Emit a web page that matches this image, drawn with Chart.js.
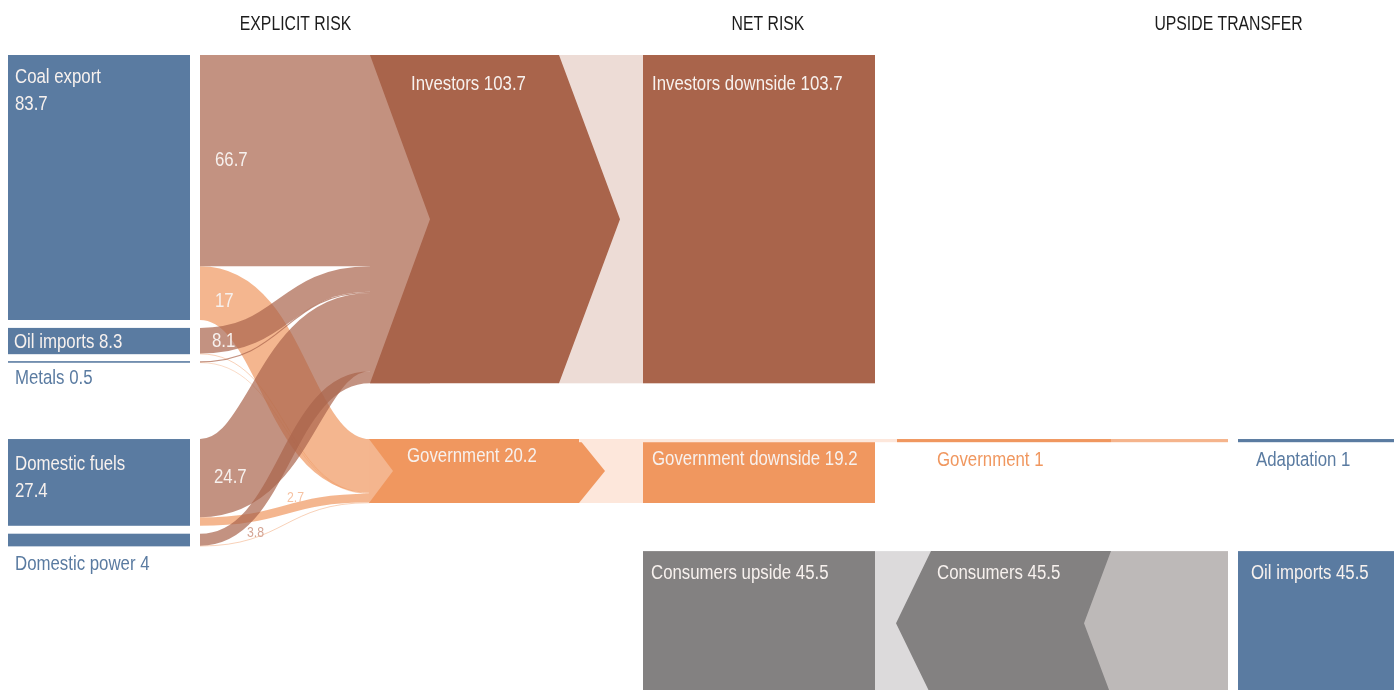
<!DOCTYPE html>
<html><head><meta charset="utf-8">
<script src="https://cdn.jsdelivr.net/npm/chart.js@4.4.1/dist/chart.umd.min.js"></script>
<style>html,body{margin:0;padding:0;background:#fff;overflow:hidden}#wrap{width:1394px;height:690px;position:relative}</style>
</head><body><div id="wrap"><canvas id="c"></canvas></div>
<script>
// ---------------- DATA ----------------
const columnTitles = ['EXPLICIT RISK', 'NET RISK', 'UPSIDE TRANSFER'];
const sourceNames = ['Coal export', 'Oil imports', 'Metals', 'Domestic fuels', 'Domestic power'];
const sourceValues = [83.7, 8.3, 0.5, 27.4, 4];
const holderNames = ['Investors', 'Government'];
const holderValues = [103.7, 20.2];
const toInvestors = [66.7, 8.1, 0.4, 24.7, 3.8];
const toGovernment = [17, 0.2, 0.1, 2.7, 0.2];
const netNames = ['Investors downside', 'Government downside', 'Consumers upside'];
const netValues = [103.7, 19.2, 45.5];
const transferNames = ['Government', 'Consumers'];
const transferValues = [1, 45.5];
const recipientNames = ['Adaptation', 'Oil imports'];
const recipientValues = [1, 45.5];

// ---------------- LAYOUT / STYLE (not data) ----------------
const PX_PER_UNIT = 3.166;
const Y_MIN = -55 / PX_PER_UNIT;
const Y_MAX = Y_MIN + 690 / PX_PER_UNIT;
const srcTop = [0, 86.2, 96.7, 121.3, 151.2];
const holderTop = [0, 121.3];
const netTop = [0, 121.3, 156.7];
const FONT = "'Liberation Sans','Arimo',Arial,sans-serif";
const NARROW = 0.82;
const C = {
  blue: '#5a7ba1', inv: '#a9644b', invLink: 'rgba(169,100,75,0.7)', invIn: '#c3917f', invOut: '#eddcd6',
  gov: '#f0975f', govLink: 'rgba(240,151,95,0.7)', govIn: '#f4b58e', govOut: '#fde7db', govOut2: '#f5b48c',
  gray: '#838181', grayL: '#dcdadb', grayR: '#bdb9b8', white: '#f7f1ee', title: '#1c1c1c'
};
const XL = { srcL: 8, srcR: 190, linkL: 200, linkR: 370, netL: 643, netR: 875, trL: 897, trR: 1111, trEnd: 1228, recL: 1238, recR: 1394 };
const holderShape = [ { x0: 370, x1: 559, dIn: 60, dOut: 61 }, { x0: 369, x1: 579, dIn: 24, dOut: 26 } ];
const consumerShape = { xl: 931, xr: 1111, dl: 35, dr: 27 };
// link label placement (x position, px offset from band middle at source)
const linkLabelInv = [ {x: 215, dy: 5.5}, {x: 212, dy: 6}, null, {x: 214, dy: 5}, {x: 247, dy: -3, small: true} ];
const linkLabelGov = [ {x: 215, dy: 14}, null, null, {x: 287, dy: -19.5, small: true}, null ];

const sankeyPlugin = {
  id: 'sankey',
  afterDraw(chart) {
    const ctx = chart.ctx;
    const X = v => chart.scales.x.getPixelForValue(v);
    const Y = v => chart.scales.y.getPixelForValue(v);
    const rect = (x0, x1, y0, y1, col) => {
      ctx.fillStyle = col;
      ctx.fillRect(X(x0), Y(y0), X(x1) - X(x0), Y(y1) - Y(y0));
    };
    const poly = (pts, col) => {
      ctx.beginPath();
      pts.forEach((p, i) => i ? ctx.lineTo(X(p[0]), Y(p[1])) : ctx.moveTo(X(p[0]), Y(p[1])));
      ctx.closePath(); ctx.fillStyle = col; ctx.fill();
    };
    const text = (s, x, yPx, col, size, align, sx) => {
      ctx.save();
      ctx.font = (size || 20.5) + 'px ' + FONT;
      ctx.fillStyle = col; ctx.textAlign = align || 'left'; ctx.textBaseline = 'alphabetic';
      ctx.translate(X(x), yPx);
      ctx.scale(sx || NARROW, 1);
      ctx.fillText(s, 0, 0);
      ctx.restore();
    };
    ctx.save();

    // --- source nodes
    sourceValues.forEach((v, i) => rect(XL.srcL, XL.srcR, srcTop[i], srcTop[i] + v, C.blue));

    // --- links source -> holders (government drawn first, investors on top)
    const srcOffInv = sourceValues.map((v, i) => srcTop[i]);
    const srcOffGov = sourceValues.map((v, i) => srcTop[i] + toInvestors[i]);
    const linkSets = [
      { vals: toGovernment, target: 1, color: C.govLink, srcOff: srcOffGov },
      { vals: toInvestors, target: 0, color: C.invLink, srcOff: srcOffInv }
    ];
    const labelQueue = [];
    linkSets.forEach(set => {
      let tgt = holderTop[set.target];
      set.vals.forEach((v, i) => {
        const s0 = set.srcOff[i];
        const ys = Y(s0 + v / 2), yt = Y(tgt + v / 2);
        const x0 = X(XL.linkL), x1 = X(XL.linkR), xm = (x0 + x1) / 2;
        ctx.beginPath();
        ctx.moveTo(x0, ys);
        ctx.bezierCurveTo(xm, ys, xm, yt, x1, yt);
        ctx.lineWidth = Math.max(Y(v) - Y(0), 0.5);
        ctx.strokeStyle = set.color; ctx.lineCap = 'butt';
        ctx.stroke();
        const lab = (set.target === 0 ? linkLabelInv : linkLabelGov)[i];
        if (lab) labelQueue.push({ s: String(v), x: lab.x, y: ys + lab.dy, small: lab.small, target: set.target });
        tgt += v;
      });
    });

    // --- holder nodes (chevrons)
    holderValues.forEach((v, h) => {
      const sh = holderShape[h], top = holderTop[h], bot = top + v, mid = top + v / 2;
      const cIn = h === 0 ? C.invIn : C.govIn, cOut = h === 0 ? C.invOut : C.govOut, cN = h === 0 ? C.inv : C.gov;
      rect(sh.x0, sh.x0 + sh.dIn, top, bot, cIn);
      rect(sh.x1, XL.netL, top, bot, cOut);
      poly([[sh.x0, top], [sh.x1, top], [sh.x1 + sh.dOut, mid], [sh.x1, bot], [sh.x0, bot], [sh.x0 + sh.dIn, mid]], cN);
    });
    // government upside strip continues through the net risk column
    rect(holderShape[1].x1, XL.trL, netTop[1], netTop[1] + transferValues[0], C.govOut);

    // --- net risk nodes
    rect(XL.netL, XL.netR, netTop[0], netTop[0] + netValues[0], C.inv);
    rect(XL.netL, XL.netR, netTop[1] + transferValues[0], netTop[1] + transferValues[0] + netValues[1], C.gov);
    rect(XL.netL, XL.netR, netTop[2], netTop[2] + netValues[2], C.gray);

    // --- upside transfer: government
    rect(XL.trL, XL.trR, netTop[1], netTop[1] + transferValues[0], C.gov);
    rect(XL.trR, XL.trEnd, netTop[1], netTop[1] + transferValues[0], C.govOut2);
    rect(XL.recL, XL.recR, netTop[1], netTop[1] + recipientValues[0], C.blue);
    // --- upside transfer: consumers (arrow pointing left)
    const cs = consumerShape, ct = netTop[2], cb = ct + transferValues[1], cm = ct + transferValues[1] / 2;
    rect(XL.netR, cs.xl, ct, cb, C.grayL);
    rect(cs.xr - cs.dr, XL.trEnd, ct, cb, C.grayR);
    poly([[cs.xl, ct], [cs.xr, ct], [cs.xr - cs.dr, cm], [cs.xr, cb], [cs.xl, cb], [cs.xl - cs.dl, cm]], C.gray);
    rect(XL.recL, XL.recR, netTop[2], netTop[2] + recipientValues[1], C.blue);

    // --- link labels
    labelQueue.forEach(l => {
      if (l.small) text(l.s, l.x, l.y, l.target === 0 ? '#d4a595' : '#f6c2a2', 15);
      else text(l.s, l.x, l.y, C.white);
    });

    // --- node labels
    const T = v => Y(v);
    text(sourceNames[0], 15, T(srcTop[0]) + 28, C.white);
    text(String(sourceValues[0]), 15, T(srcTop[0]) + 55, C.white);
    text(sourceNames[1] + ' ' + sourceValues[1], 14, T(srcTop[1]) + 20, C.white);
    text(sourceNames[2] + ' ' + sourceValues[2], 15, T(srcTop[2]) + 23, C.blue);
    text(sourceNames[3], 15, T(srcTop[3]) + 31, C.white);
    text(String(sourceValues[3]), 15, T(srcTop[3]) + 58, C.white);
    text(sourceNames[4] + ' ' + sourceValues[4], 15, T(srcTop[4]) + 36, C.blue);

    text(holderNames[0] + ' ' + holderValues[0], 411, T(holderTop[0]) + 35, C.white);
    text(holderNames[1] + ' ' + holderValues[1], 407, T(holderTop[1]) + 23, C.white);

    text(netNames[0] + ' ' + netValues[0], 652, T(netTop[0]) + 35, C.white);
    text(netNames[1] + ' ' + netValues[1], 652, T(netTop[1]) + 26, C.white);
    text(netNames[2] + ' ' + netValues[2], 651, T(netTop[2]) + 27.5, C.white);

    text(transferNames[0] + ' ' + transferValues[0], 937, T(netTop[1]) + 26.5, C.gov);
    text(transferNames[1] + ' ' + transferValues[1], 937, T(netTop[2]) + 27.5, C.white);
    text(recipientNames[0] + ' ' + recipientValues[0], 1256, T(netTop[1]) + 26.5, C.blue);
    text(recipientNames[1] + ' ' + recipientValues[1], 1251, T(netTop[2]) + 27.5, C.white);

    // --- column titles
    const titleX = [295.5, 768, 1228.5];
    columnTitles.forEach((t, i) => text(t, titleX[i], 30, C.title, 20.5, 'center', 0.77));
    ctx.restore();
  }
};

const chart = new Chart(document.getElementById('c'), {
  type: 'scatter',
  data: { datasets: [] },
  options: {
    responsive: true, maintainAspectRatio: false, animation: false,
    layout: { padding: 0 },
    plugins: { legend: { display: false }, tooltip: { enabled: false } },
    scales: {
      x: { type: 'linear', display: false, min: 0, max: 1394 },
      y: { type: 'linear', display: false, min: Y_MIN, max: Y_MAX, reverse: true }
    }
  },
  plugins: [sankeyPlugin]
});
</script></body></html>
